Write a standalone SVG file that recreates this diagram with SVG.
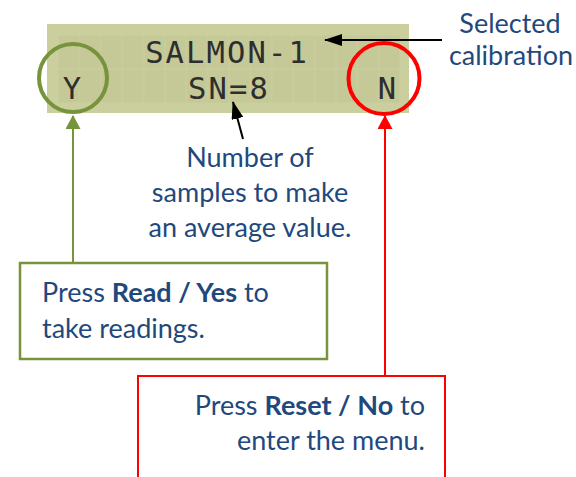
<svg xmlns="http://www.w3.org/2000/svg" width="576" height="477" viewBox="0 0 576 477">
  <style>
    .lbl { font-family: Lato, "Open Sans", "Liberation Sans", sans-serif; font-size: 27px; fill: #1F497D; }
    .b { font-weight: bold; }
    .lcd { font-family: "DejaVu Sans Mono", "Liberation Mono", monospace; font-size: 30.5px; letter-spacing: 2.1px; fill: #2E2E2E; text-anchor: middle; }
    .conn { fill: none; stroke-width: 2; }
  </style>
  <defs>
    <pattern id="cells" x="58" y="35" width="21.375" height="34" patternUnits="userSpaceOnUse">
      <rect x="0.5" y="0.5" width="20.4" height="33" fill="#C5C998"/>
    </pattern>
    <marker id="ahBlack" viewBox="0 0 18 12" refX="17" refY="6" markerWidth="18" markerHeight="12" markerUnits="userSpaceOnUse" orient="auto">
      <path d="M0,0 L18,6 L0,12 z" fill="#000"/>
    </marker>
    <marker id="ahGreen" viewBox="0 0 14 15" refX="13" refY="7.5" markerWidth="14" markerHeight="15" markerUnits="userSpaceOnUse" orient="auto">
      <path d="M0,0 L14,7.5 L0,15 z" fill="#77933C"/>
    </marker>
    <marker id="ahRed" viewBox="0 0 14 15" refX="13" refY="7.5" markerWidth="14" markerHeight="15" markerUnits="userSpaceOnUse" orient="auto">
      <path d="M0,0 L14,7.5 L0,15 z" fill="#FF0000"/>
    </marker>
  </defs>

  <g id="lcd">
    <rect x="47" y="24" width="362" height="89" fill="#CBCF9E"/>
    <rect x="58" y="35" width="342" height="68" fill="url(#cells)"/>
    <text class="lcd" x="227" y="62.5">SALMON-1</text>
    <text class="lcd" x="229" y="98.5">SN=8</text>
    <text class="lcd" x="73" y="98.5">Y</text>
    <text class="lcd" x="388" y="98.5">N</text>
  </g>

  <g id="yes-circle">
    <circle cx="73" cy="78" r="34" fill="none" stroke="#77933C" stroke-width="4"/>
  </g>
  <g id="no-circle">
    <circle cx="384" cy="78.5" r="35.5" fill="none" stroke="#FF0000" stroke-width="4"/>
  </g>

  <g id="connectors">
    <path class="conn" d="M442,40 L325,40" stroke="#000" marker-end="url(#ahBlack)"/>
    <path class="conn" d="M243,139 L233,102" stroke="#000" marker-end="url(#ahBlack)"/>
    <path class="conn" d="M73,263 L73,116" stroke="#77933C" stroke-width="2.5" marker-end="url(#ahGreen)"/>
    <path class="conn" d="M385,376 L385,116" stroke="#FF0000" stroke-width="2.5" marker-end="url(#ahRed)"/>
  </g>

  <g id="selected-label">
    <text class="lbl" x="510" y="33" text-anchor="middle">Selected</text>
    <text class="lbl" x="511" y="65" text-anchor="middle">calibration</text>
  </g>

  <g id="samples-label">
    <text class="lbl" x="250" y="167" text-anchor="middle">Number of</text>
    <text class="lbl" x="250" y="202" text-anchor="middle">samples to make</text>
    <text class="lbl" x="250" y="237" text-anchor="middle">an average value.</text>
  </g>

  <g id="yes-box">
    <rect x="20" y="263" width="307" height="96" fill="#fff" stroke="#77933C" stroke-width="2.5"/>
    <text class="lbl" x="42" y="302">Press <tspan class="b">Read / Yes</tspan> to</text>
    <text class="lbl" x="42" y="338">take readings.</text>
  </g>

  <g id="no-box">
    <rect x="138" y="376" width="307" height="120" fill="#fff" stroke="#FF0000" stroke-width="2"/>
    <text class="lbl" x="425" y="415" text-anchor="end">Press <tspan class="b">Reset / No</tspan> to</text>
    <text class="lbl" x="425" y="450" text-anchor="end">enter the menu.</text>
  </g>
</svg>
